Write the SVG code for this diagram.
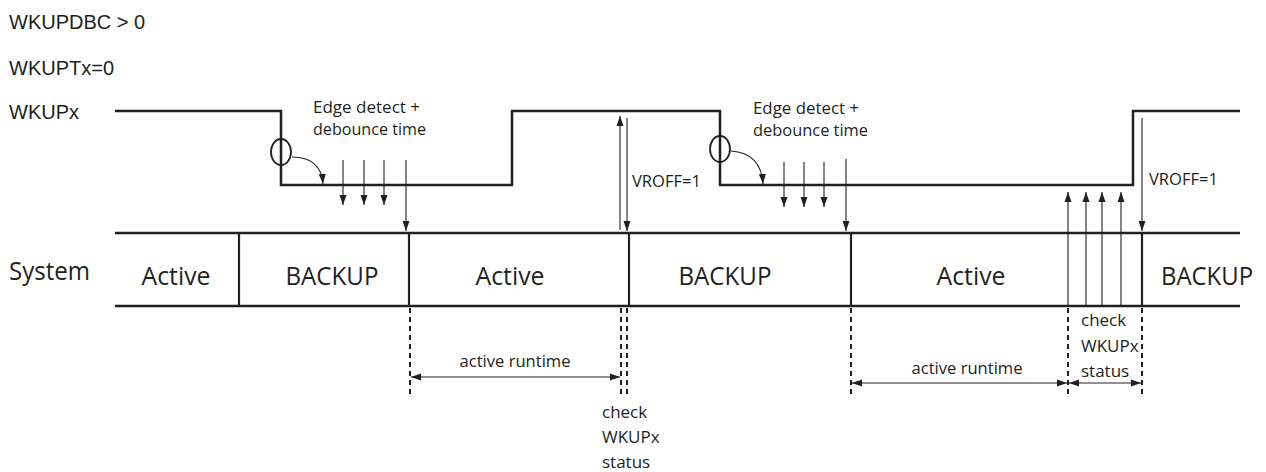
<svg xmlns="http://www.w3.org/2000/svg" width="1266" height="472" viewBox="0 0 1266 472">
<defs>
<marker id="ah" viewBox="0 0 10 10" refX="10" refY="5" markerWidth="10" markerHeight="10" markerUnits="userSpaceOnUse" orient="auto-start-reverse">
<path d="M0,1.5 L10,5 L0,8.5 Z" fill="#231f20"/>
</marker>
<style>
.sig{fill:none;stroke:#231f20;stroke-width:2.5}
.row{fill:none;stroke:#231f20;stroke-width:2.5}
.div{stroke:#231f20;stroke-width:2.2}
.dash{stroke:#231f20;stroke-width:2;stroke-dasharray:5 4}
.arr{fill:none;stroke:#231f20;stroke-width:1.1;marker-end:url(#ah)}
.arr2{fill:none;stroke:#231f20;stroke-width:1.1;marker-end:url(#ah);marker-start:url(#ah)}
.lbl{font-family:"Liberation Sans",Arial,sans-serif;font-size:20px;fill:#231f20}
.big{font-family:"Open Sans","Liberation Sans",sans-serif;font-size:25px;fill:#231f20}
.sm{font-family:"Open Sans","Liberation Sans",sans-serif;font-size:17px;fill:#231f20}
</style>
</defs>
<g id="labels">
<text class="lbl" x="9" y="29">WKUPDBC &gt; 0</text>
<text class="lbl" x="9" y="75">WKUPTx=0</text>
<text class="lbl" x="9" y="119">WKUPx</text>
<text class="big" x="9" y="280" textLength="81" lengthAdjust="spacingAndGlyphs">System</text>
</g>
<g id="wkupx-signal">
<path class="sig" d="M115,111 H281 V185 H512 V111 H720 V185 H1133 V111 H1240"/>
<ellipse cx="281" cy="152" rx="10" ry="13" fill="none" stroke="#231f20" stroke-width="1.8"/>
<ellipse cx="720" cy="149" rx="10" ry="13" fill="none" stroke="#231f20" stroke-width="1.8"/>
</g>
<g id="system-row">
<path class="row" d="M115,233 H1240 M115,306 H1240"/>
<line class="div" x1="239" y1="233" x2="239" y2="306"/>
<line class="div" x1="409" y1="233" x2="409" y2="306"/>
<line class="div" x1="629" y1="233" x2="629" y2="306"/>
<line class="div" x1="851" y1="233" x2="851" y2="306"/>
<line class="div" x1="1142" y1="233" x2="1142" y2="306"/>
</g>
<g id="state-active-1"><text class="big" x="176" y="285" text-anchor="middle" textLength="69" lengthAdjust="spacingAndGlyphs">Active</text></g>
<g id="state-backup-1"><text class="big" x="332" y="285" text-anchor="middle" textLength="93" lengthAdjust="spacingAndGlyphs">BACKUP</text></g>
<g id="state-active-2"><text class="big" x="510" y="285" text-anchor="middle" textLength="69" lengthAdjust="spacingAndGlyphs">Active</text></g>
<g id="state-backup-2"><text class="big" x="725" y="285" text-anchor="middle" textLength="93" lengthAdjust="spacingAndGlyphs">BACKUP</text></g>
<g id="state-active-3"><text class="big" x="971" y="285" text-anchor="middle" textLength="69" lengthAdjust="spacingAndGlyphs">Active</text></g>
<g id="state-backup-3"><text class="big" x="1207" y="285" text-anchor="middle" textLength="92" lengthAdjust="spacingAndGlyphs">BACKUP</text></g>
<g id="annotations">
<text class="sm" x="313" y="113" textLength="107" lengthAdjust="spacingAndGlyphs">Edge detect +</text>
<text class="sm" x="313" y="135" textLength="113" lengthAdjust="spacingAndGlyphs">debounce time</text>
<text class="sm" x="753" y="114" textLength="106" lengthAdjust="spacingAndGlyphs">Edge detect +</text>
<text class="sm" x="753" y="136" textLength="115" lengthAdjust="spacingAndGlyphs">debounce time</text>
<text class="sm" x="632" y="187" textLength="69" lengthAdjust="spacingAndGlyphs">VROFF=1</text>
<text class="sm" x="1149" y="185" textLength="69" lengthAdjust="spacingAndGlyphs">VROFF=1</text>
<text class="sm" x="515" y="367" text-anchor="middle" textLength="111" lengthAdjust="spacingAndGlyphs">active runtime</text>
<text class="sm" x="967" y="374" text-anchor="middle" textLength="111" lengthAdjust="spacingAndGlyphs">active runtime</text>
<text class="sm" x="602" y="418">check</text>
<text class="sm" x="602" y="443">WKUPx</text>
<text class="sm" x="602" y="468">status</text>
<text class="sm" x="1081" y="326">check</text>
<text class="sm" x="1081" y="352">WKUPx</text>
<text class="sm" x="1081" y="377">status</text>
</g>
<g id="connectors">
<path class="arr" d="M292,157 Q321,157 323,184"/>
<path class="arr" d="M731,151 Q761,153 763,184"/>
<line class="arr" x1="343" y1="160" x2="343" y2="205"/>
<line class="arr" x1="364" y1="160" x2="364" y2="205"/>
<line class="arr" x1="384" y1="160" x2="384" y2="205"/>
<line class="arr" x1="406" y1="160" x2="406" y2="231"/>
<line class="arr" x1="784" y1="162" x2="784" y2="207"/>
<line class="arr" x1="804" y1="162" x2="804" y2="207"/>
<line class="arr" x1="824" y1="162" x2="824" y2="207"/>
<line class="arr" x1="846" y1="159" x2="846" y2="231"/>
<line class="arr" x1="620" y1="230" x2="620" y2="116"/>
<line class="arr" x1="627" y1="118" x2="627" y2="231"/>
<line class="arr" x1="1142" y1="118" x2="1142" y2="231"/>
<line class="arr" x1="1068" y1="306" x2="1068" y2="192"/>
<line class="arr" x1="1086" y1="306" x2="1086" y2="192"/>
<line class="arr" x1="1102" y1="306" x2="1102" y2="192"/>
<line class="arr" x1="1121" y1="306" x2="1121" y2="192"/>
<line class="dash" x1="410" y1="308" x2="410" y2="394"/>
<line class="dash" x1="621" y1="308" x2="621" y2="394"/>
<line class="dash" x1="627" y1="308" x2="627" y2="394"/>
<line class="dash" x1="851" y1="308" x2="851" y2="396"/>
<line class="dash" x1="1068" y1="308" x2="1068" y2="398"/>
<line class="dash" x1="1142" y1="308" x2="1142" y2="394"/>
<line class="arr2" x1="411" y1="377" x2="620" y2="377"/>
<line class="arr2" x1="852" y1="383" x2="1067" y2="383"/>
<line class="arr2" x1="1069" y1="383" x2="1141" y2="383"/>
</g>
</svg>
